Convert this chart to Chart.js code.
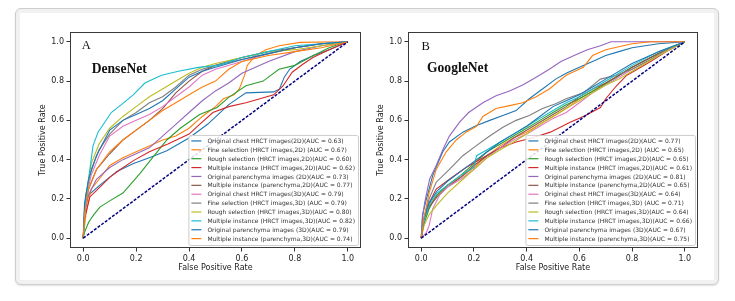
<!DOCTYPE html>
<html lang="en">
<head>
<meta charset="UTF-8">
<title>ROC curves - DenseNet / GoogleNet</title>
<script src="https://cdn.jsdelivr.net/npm/chart.js@4.4.1/dist/chart.umd.min.js"></script>
<style>
  html, body { margin: 0; padding: 0; background: #fff; }
  body { position: relative; width: 735px; height: 301px; overflow: hidden; }
  .card {
    position: absolute; left: 15px; top: 8px; width: 702px; height: 275px;
    border: 1px solid #cdcdcd; border-radius: 6px; background: #f1f1f1;
    box-shadow: 0 1px 2px rgba(0,0,0,0.12);
  }
  .inner { position: absolute; left: 20px; top: 13px; width: 694px; height: 267px; background: #fff; }
  canvas { position: absolute; top: 13px; }
  #rocA { left: 20px; }
  #rocB { left: 358px; }
</style>
</head>
<body>
<div class="card"></div>
<div class="inner"></div>
<canvas id="rocA" width="350" height="267"></canvas>
<canvas id="rocB" width="354" height="267"></canvas>

<script>
// ---- data (fpr, tpr) ----
const tickVals = [0, 0.2, 0.4, 0.6, 0.8, 1.0];
const curveNames = [
  'Original chest HRCT images(2D)',
  'Fine selection (HRCT images,2D) ',
  'Rough selection (HRCT images,2D)',
  'Multiple instance (HRCT images,2D)',
  'Original parenchyma images (2D)',
  'Multiple instance (parenchyma,2D)',
  'Original chest HRCT images(3D)',
  'Fine selection (HRCT images,3D) ',
  'Rough selection (HRCT images,3D)',
  'Multiple instance (HRCT images,3D)',
  'Original parenchyma images (3D)',
  'Multiple instance (parenchyma,3D)'
];
const curveColors = ['#1f77b4', '#ff7f0e', '#2ca02c', '#d62728', '#9467bd', '#8c564b',
                     '#e377c2', '#7f7f7f', '#bcbd22', '#17becf', '#1f77b4', '#ff7f0e'];
const aucDense = [0.63, 0.67, 0.60, 0.62, 0.73, 0.77, 0.79, 0.79, 0.80, 0.82, 0.79, 0.74];
const aucGoogle = [0.77, 0.65, 0.65, 0.61, 0.81, 0.65, 0.64, 0.71, 0.64, 0.66, 0.67, 0.75];
const chanceLine = [[0, 0], [1, 1]];

// DenseNet
const dnOrigChest2D = [[0,0],[0.006,0.16],[0.02,0.22],[0.063,0.27],[0.127,0.34],[0.19,0.38],[0.25,0.41],[0.316,0.445],[0.4,0.51],[0.47,0.58],[0.55,0.68],[0.615,0.74],[0.72,0.745],[0.742,0.76],[0.76,0.82],[0.78,0.86],[0.82,0.9],[0.87,0.93],[0.93,0.96],[1,1]];
const dnFine2D = [[0,0],[0.01,0.12],[0.03,0.25],[0.06,0.3],[0.1,0.37],[0.15,0.41],[0.2,0.44],[0.25,0.47],[0.3,0.5],[0.35,0.52],[0.4,0.56],[0.45,0.62],[0.5,0.67],[0.53,0.71],[0.57,0.73],[0.59,0.76],[0.61,0.83],[0.62,0.88],[0.65,0.93],[0.69,0.96],[0.74,0.98],[0.82,0.997],[1,1]];
const dnRough2D = [[0,0],[0.005,0.03],[0.02,0.08],[0.04,0.12],[0.063,0.158],[0.1,0.19],[0.15,0.23],[0.215,0.33],[0.25,0.39],[0.316,0.5],[0.367,0.56],[0.44,0.63],[0.506,0.666],[0.55,0.717],[0.615,0.776],[0.68,0.8],[0.74,0.86],[0.8,0.88],[0.87,0.93],[0.93,0.97],[0.97,0.99],[1,1]];
const dnMulti2D = [[0,0],[0.005,0.1],[0.025,0.21],[0.063,0.26],[0.1,0.31],[0.14,0.35],[0.19,0.395],[0.25,0.44],[0.32,0.48],[0.4,0.53],[0.44,0.58],[0.49,0.64],[0.55,0.67],[0.615,0.69],[0.72,0.73],[0.755,0.775],[0.79,0.845],[0.83,0.886],[0.868,0.92],[0.93,0.96],[1,1]];
const dnOrigPar2D = [[0,0],[0.005,0.12],[0.02,0.22],[0.05,0.3],[0.1,0.36],[0.15,0.4],[0.2,0.43],[0.25,0.46],[0.3,0.52],[0.35,0.58],[0.4,0.64],[0.45,0.7],[0.5,0.75],[0.55,0.79],[0.6,0.84],[0.7,0.9],[0.8,0.95],[0.9,0.98],[1,1]];
const dnMultiPar2D = [[0,0],[0.005,0.15],[0.02,0.25],[0.05,0.35],[0.1,0.43],[0.15,0.5],[0.2,0.55],[0.25,0.6],[0.3,0.66],[0.35,0.74],[0.4,0.8],[0.45,0.85],[0.5,0.88],[0.6,0.92],[0.7,0.95],[0.8,0.97],[0.9,0.99],[1,1]];
const dnOrigChest3D = [[0,0],[0.01,0.2],[0.03,0.32],[0.06,0.42],[0.1,0.52],[0.15,0.57],[0.2,0.6],[0.25,0.63],[0.3,0.67],[0.35,0.72],[0.4,0.77],[0.45,0.83],[0.5,0.86],[0.6,0.9],[0.7,0.94],[0.8,0.97],[0.9,0.99],[1,1]];
const dnFine3D = [[0,0],[0.01,0.22],[0.03,0.35],[0.06,0.45],[0.1,0.53],[0.15,0.6],[0.2,0.64],[0.25,0.69],[0.3,0.72],[0.35,0.77],[0.4,0.83],[0.45,0.86],[0.5,0.88],[0.6,0.91],[0.7,0.94],[0.8,0.97],[0.9,0.99],[1,1]];
const dnRough3D = [[0,0],[0.01,0.2],[0.03,0.38],[0.06,0.48],[0.1,0.56],[0.15,0.62],[0.2,0.67],[0.25,0.72],[0.3,0.76],[0.35,0.8],[0.4,0.84],[0.45,0.87],[0.5,0.89],[0.6,0.92],[0.7,0.95],[0.8,0.96],[0.9,0.98],[1,1]];
const dnMulti3D = [[0,0],[0.01,0.2],[0.037,0.47],[0.056,0.54],[0.106,0.64],[0.144,0.68],[0.189,0.73],[0.233,0.79],[0.296,0.83],[0.36,0.85],[0.435,0.87],[0.51,0.88],[0.6,0.92],[0.7,0.95],[0.8,0.98],[0.9,0.99],[1,1]];
const dnOrigPar3D = [[0,0],[0.005,0.18],[0.02,0.3],[0.05,0.42],[0.1,0.55],[0.15,0.6],[0.2,0.63],[0.25,0.66],[0.3,0.7],[0.35,0.76],[0.4,0.82],[0.45,0.85],[0.5,0.87],[0.6,0.91],[0.7,0.94],[0.8,0.97],[0.9,0.99],[1,1]];
const dnMultiPar3D = [[0,0],[0.005,0.12],[0.02,0.25],[0.05,0.35],[0.1,0.44],[0.15,0.5],[0.2,0.55],[0.25,0.6],[0.3,0.65],[0.35,0.69],[0.4,0.73],[0.45,0.77],[0.5,0.8],[0.55,0.86],[0.6,0.9],[0.7,0.93],[0.8,0.95],[0.9,0.97],[1,1]];

// GoogleNet
const gnOrigChest2D = [[0,0],[0.005,0.12],[0.02,0.2],[0.044,0.32],[0.082,0.44],[0.107,0.49],[0.158,0.54],[0.208,0.573],[0.26,0.6],[0.31,0.625],[0.36,0.65],[0.41,0.71],[0.46,0.76],[0.51,0.81],[0.55,0.84],[0.6,0.87],[0.65,0.9],[0.7,0.93],[0.75,0.95],[0.8,0.97],[0.9,0.99],[1,1]];
const gnFine2D = [[0,0],[0.01,0.08],[0.03,0.16],[0.06,0.22],[0.1,0.27],[0.15,0.31],[0.2,0.36],[0.25,0.42],[0.3,0.47],[0.35,0.51],[0.4,0.54],[0.45,0.58],[0.5,0.62],[0.55,0.66],[0.6,0.71],[0.65,0.75],[0.7,0.79],[0.8,0.87],[0.9,0.94],[1,1]];
const gnRough2D = [[0,0],[0.01,0.07],[0.03,0.15],[0.06,0.22],[0.1,0.27],[0.15,0.32],[0.2,0.38],[0.25,0.44],[0.3,0.48],[0.35,0.52],[0.4,0.56],[0.45,0.6],[0.5,0.64],[0.55,0.68],[0.6,0.71],[0.68,0.77],[0.74,0.82],[0.8,0.87],[0.87,0.92],[0.93,0.96],[1,1]];
const gnMulti2D = [[0,0],[0.01,0.08],[0.03,0.18],[0.057,0.25],[0.107,0.3],[0.17,0.36],[0.234,0.41],[0.3,0.46],[0.36,0.49],[0.42,0.51],[0.49,0.54],[0.565,0.59],[0.615,0.62],[0.68,0.665],[0.7,0.71],[0.74,0.775],[0.78,0.83],[0.82,0.86],[0.87,0.9],[0.93,0.95],[1,1]];
const gnOrigPar2D = [[0,0],[0.005,0.1],[0.013,0.18],[0.032,0.3],[0.057,0.37],[0.082,0.45],[0.107,0.52],[0.145,0.59],[0.18,0.64],[0.234,0.69],[0.284,0.725],[0.335,0.75],[0.385,0.78],[0.436,0.82],[0.486,0.86],[0.53,0.9],[0.58,0.93],[0.63,0.96],[0.68,0.98],[0.72,1],[1,1]];
const gnMultiPar2D = [[0,0],[0.01,0.09],[0.03,0.16],[0.06,0.21],[0.1,0.26],[0.15,0.31],[0.2,0.37],[0.25,0.42],[0.3,0.46],[0.35,0.51],[0.4,0.55],[0.45,0.59],[0.5,0.63],[0.55,0.67],[0.6,0.72],[0.65,0.76],[0.7,0.79],[0.75,0.83],[0.8,0.87],[0.9,0.94],[1,1]];
const gnOrigChest3D = [[0,0],[0.02,0.03],[0.03,0.064],[0.044,0.15],[0.07,0.22],[0.1,0.26],[0.15,0.3],[0.2,0.35],[0.25,0.41],[0.3,0.46],[0.35,0.5],[0.4,0.53],[0.45,0.57],[0.5,0.61],[0.55,0.64],[0.6,0.69],[0.65,0.74],[0.7,0.78],[0.75,0.82],[0.8,0.86],[0.9,0.93],[1,1]];
const gnFine3D = [[0,0],[0.01,0.1],[0.03,0.2],[0.057,0.285],[0.107,0.35],[0.158,0.42],[0.208,0.47],[0.26,0.52],[0.31,0.565],[0.36,0.6],[0.41,0.625],[0.46,0.66],[0.51,0.685],[0.55,0.71],[0.615,0.74],[0.68,0.81],[0.74,0.83],[0.8,0.86],[0.87,0.91],[0.93,0.96],[1,1]];
const gnRough3D = [[0,0],[0.01,0.06],[0.03,0.12],[0.06,0.17],[0.1,0.23],[0.15,0.29],[0.2,0.35],[0.25,0.41],[0.3,0.45],[0.35,0.49],[0.4,0.53],[0.45,0.58],[0.5,0.62],[0.55,0.66],[0.6,0.7],[0.65,0.74],[0.7,0.78],[0.75,0.81],[0.8,0.85],[0.9,0.93],[1,1]];
const gnMulti3D = [[0,0],[0.01,0.08],[0.03,0.17],[0.06,0.23],[0.1,0.27],[0.15,0.32],[0.2,0.36],[0.21,0.42],[0.25,0.45],[0.3,0.49],[0.35,0.53],[0.4,0.57],[0.45,0.61],[0.5,0.65],[0.55,0.69],[0.6,0.72],[0.65,0.76],[0.7,0.8],[0.8,0.88],[0.9,0.95],[1,1]];
const gnOrigPar3D = [[0,0],[0.01,0.1],[0.03,0.18],[0.06,0.24],[0.1,0.29],[0.15,0.34],[0.2,0.39],[0.25,0.44],[0.3,0.49],[0.35,0.53],[0.4,0.57],[0.45,0.62],[0.5,0.67],[0.55,0.7],[0.6,0.73],[0.65,0.77],[0.7,0.81],[0.8,0.89],[0.9,0.95],[1,1]];
const gnMultiPar3D = [[0,0],[0.01,0.1],[0.03,0.23],[0.057,0.35],[0.095,0.44],[0.133,0.5],[0.17,0.54],[0.21,0.57],[0.234,0.62],[0.284,0.66],[0.335,0.675],[0.385,0.69],[0.436,0.72],[0.486,0.76],[0.55,0.83],[0.615,0.87],[0.65,0.93],[0.7,0.96],[0.8,0.99],[0.87,1],[1,1]];

const denseCurves = [dnOrigChest2D, dnFine2D, dnRough2D, dnMulti2D, dnOrigPar2D, dnMultiPar2D,
                     dnOrigChest3D, dnFine3D, dnRough3D, dnMulti3D, dnOrigPar3D, dnMultiPar3D];
const googleCurves = [gnOrigChest2D, gnFine2D, gnRough2D, gnMulti2D, gnOrigPar2D, gnMultiPar2D,
                      gnOrigChest3D, gnFine3D, gnRough3D, gnMulti3D, gnOrigPar3D, gnMultiPar3D];

// ---- plugins ----
// black frame round the plot (matplotlib spines)
const frame = {
  id: 'frame',
  afterDatasetsDraw(chart) {
    const { ctx, chartArea: a } = chart;
    ctx.save();
    ctx.strokeStyle = '#3a3a3a';
    ctx.lineWidth = 1;
    ctx.strokeRect(a.left + 0.5, a.top + 0.5, a.right - a.left - 1, a.bottom - a.top - 1);
    ctx.restore();
  }
};

// legend box inside the lower right corner
const boxLegend = {
  id: 'boxLegend',
  afterDatasetsDraw(chart, args, opts) {
    const { ctx, chartArea: a } = chart;
    const items = chart.data.datasets.filter(d => !d.hideInLegend);
    ctx.save();
    ctx.font = '6px "DejaVu Sans"';
    const textW = Math.max(...items.map(d => ctx.measureText(d.label).width));
    const rowH = 8.88;
    const w = 3 + 10 + 6 + textW + 3;
    const h = items.length * rowH + 3.5;
    const x = a.right - opts.right - w;
    const y = a.bottom - opts.bottom - h;
    ctx.beginPath();
    ctx.roundRect(x + 0.5, y + 0.5, w, h, 2);
    ctx.fillStyle = 'rgba(255,255,255,0.85)';
    ctx.fill();
    ctx.strokeStyle = '#cccccc';
    ctx.lineWidth = 1;
    ctx.stroke();
    ctx.textBaseline = 'middle';
    items.forEach((d, i) => {
      const cy = y + 6 + i * rowH;
      ctx.strokeStyle = d.borderColor;
      ctx.lineWidth = 1.2;
      ctx.beginPath();
      ctx.moveTo(x + 3, cy);
      ctx.lineTo(x + 13, cy);
      ctx.stroke();
      ctx.fillStyle = '#333';
      ctx.fillText(d.label, x + 19, cy + 0.5);
    });
    ctx.restore();
  }
};

// panel letter and network name
const panelText = {
  id: 'panelText',
  afterDatasetsDraw(chart, args, opts) {
    const { ctx, chartArea: a } = chart;
    ctx.save();
    ctx.fillStyle = '#111';
    ctx.textBaseline = 'alphabetic';
    ctx.font = '12.5px "Liberation Serif"';
    ctx.fillText(opts.letter, a.left + opts.letterX, a.top + opts.letterY);
    ctx.font = 'bold 13.6px "Liberation Serif"';
    ctx.fillText(opts.name, a.left + opts.nameX, a.top + opts.nameY);
    ctx.restore();
  }
};

function buildChart(id, curves, aucs, padRight, text) {
  const datasets = curves.map((pts, i) => ({
    label: curveNames[i] + '(AUC = ' + aucs[i].toFixed(2) + ')',
    data: pts.map(p => ({ x: p[0], y: p[1] })),
    borderColor: curveColors[i],
    borderWidth: 1.1,
    pointRadius: 0,
    tension: 0,
    order: curves.length + 1 - i
  }));
  datasets.push({
    label: 'chance',
    hideInLegend: true,
    data: chanceLine.map(p => ({ x: p[0], y: p[1] })),
    borderColor: '#000080',
    borderWidth: 1.5,
    borderDash: [3, 1.5],
    pointRadius: 0,
    order: 0
  });

  const axisFont = { family: 'DejaVu Sans', size: 8 };
  const scaleBase = {
    type: 'linear',
    min: -0.05,
    max: 1.05,
    afterBuildTicks: s => { s.ticks = tickVals.map(v => ({ value: v })); },
    ticks: { callback: v => v.toFixed(1), font: axisFont, color: '#222', padding: 2.5, maxRotation: 0, autoSkip: false },
    grid: { drawOnChartArea: false, drawTicks: true, tickLength: 3.5, color: '#333' },
    border: { display: false }
  };

  return new Chart(document.getElementById(id), {
    type: 'line',
    data: { datasets },
    options: {
      responsive: false,
      animation: false,
      devicePixelRatio: 1,
      layout: { padding: { top: 19, right: padRight, left: 0, bottom: 0 } },
      plugins: {
        legend: { display: false },
        tooltip: { enabled: false },
        boxLegend: { right: 3, bottom: 3 },
        panelText: text
      },
      scales: {
        x: Object.assign({}, scaleBase, {
          title: { display: true, text: 'False Positive Rate', font: axisFont, color: '#222', padding: { bottom: 7 } },
          afterFit: s => { s.height = 32; }
        }),
        y: Object.assign({}, scaleBase, {
          title: { display: true, text: 'True Positive Rate', font: axisFont, color: '#222', padding: { top: 18 } },
          afterFit: s => { s.width = 50; }
        })
      }
    },
    plugins: [frame, boxLegend, panelText]
  });
}

buildChart('rocA', denseCurves, aucDense, 9,
  { letter: 'A', name: 'DenseNet', letterX: 11.7, letterY: 17.3, nameX: 21.7, nameY: 41.3 });
buildChart('rocB', googleCurves, aucGoogle, 14,
  { letter: 'B', name: 'GoogleNet', letterX: 13.5, letterY: 18, nameX: 19, nameY: 39.7 });
</script>
</body>
</html>
